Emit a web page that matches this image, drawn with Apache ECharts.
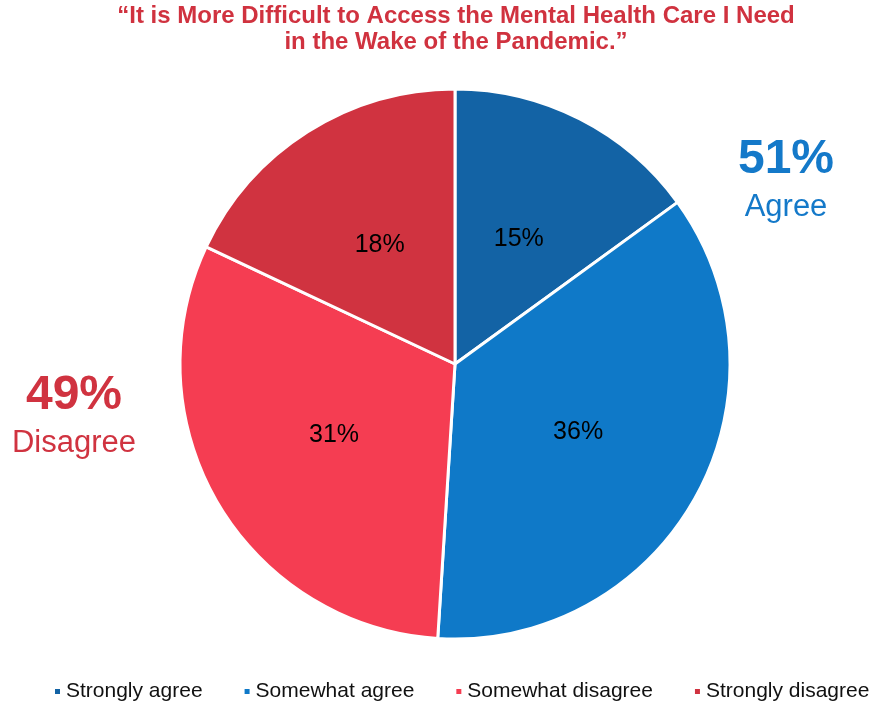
<!DOCTYPE html>
<html>
<head>
<meta charset="utf-8">
<script src="https://cdn.jsdelivr.net/npm/echarts@6/dist/echarts.min.js"></script>
<style>
  html, body { margin: 0; padding: 0; background: #fff; }
  #chart { width: 875px; height: 702px; }
</style>
</head>
<body>
<div id="chart"></div>
<script>
// slices, clockwise from 12 o'clock
const categories = ['Strongly agree', 'Somewhat agree', 'Somewhat disagree', 'Strongly disagree']
const values = [15, 36, 31, 18]
const colors = ['#1363a5', '#0f79c8', '#f53d52', '#d03340']
const titleLines = ['\u201cIt is More Difficult to Access the Mental Health Care I Need', 'in the Wake of the Pandemic.\u201d']
const totals = [
  { value: '51%', label: 'Agree', color: '#1479c9', x: 786, y: 160 },
  { value: '49%', label: 'Disagree', color: '#d03340', x: 74, y: 396 }
]

const chart = echarts.init(document.getElementById('chart'))

const graphic = []
titleLines.forEach((line, i) => {
  graphic.push({
    type: 'text', x: 456, y: 16 + i * 26,
    style: { text: line, fill: '#d0323f', font: 'bold 24px "Liberation Sans", Arial', textAlign: 'center', textVerticalAlign: 'middle' }
  })
})
totals.forEach(t => {
  graphic.push({
    type: 'text', x: t.x, y: t.y,
    style: { text: t.value, fill: t.color, font: 'bold 48px "Liberation Sans", Arial', textAlign: 'center', textVerticalAlign: 'middle' }
  })
  graphic.push({
    type: 'text', x: t.x, y: t.y + 47,
    style: { text: t.label, fill: t.color, font: '31px "Liberation Sans", Arial', textAlign: 'center', textVerticalAlign: 'middle' }
  })
})

chart.setOption({
  animation: false,
  color: colors,
  legend: {
    top: 676,
    left: 48,
    width: 827,
    icon: 'rect',
    itemWidth: 7,
    itemHeight: 7,
    itemGap: 40,
    data: categories,
    textStyle: { color: '#111', fontSize: 21, fontFamily: '"Liberation Sans", Arial' }
  },
  graphic: graphic,
  series: [{
    type: 'pie',
    center: [455, 364],
    radius: [0, 275],
    startAngle: 90,
    clockwise: true,
    label: {
      position: 'inside',
      formatter: '{c}%',
      color: '#000',
      fontSize: 25,
      fontFamily: '"Liberation Sans", Arial'
    },
    labelLine: { show: false },
    itemStyle: { borderColor: '#fff', borderWidth: 3 },
    emphasis: { disabled: true },
    data: categories.map((c, i) => ({ name: c, value: values[i] }))
  }]
})
</script>
</body>
</html>
